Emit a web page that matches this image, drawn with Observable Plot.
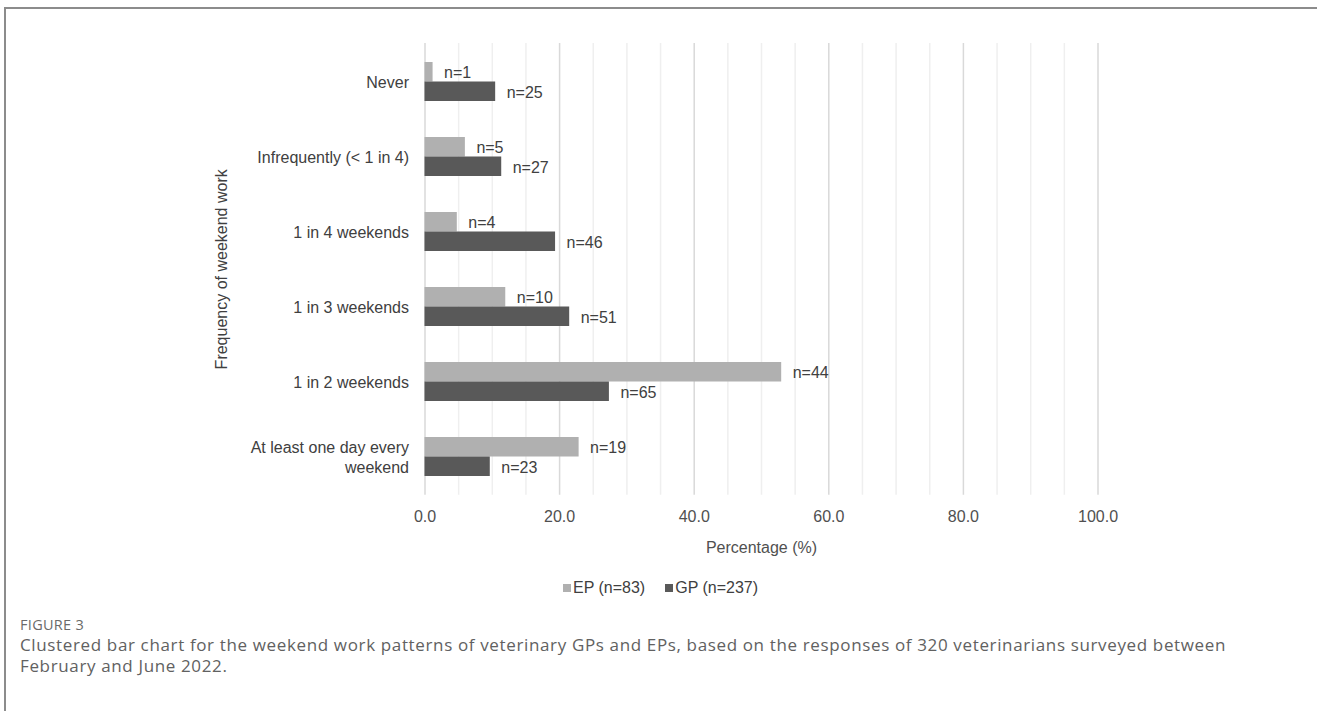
<!DOCTYPE html>
<html>
<head>
<meta charset="utf-8">
<script src="https://cdn.jsdelivr.net/npm/d3@7"></script>
<script src="https://cdn.jsdelivr.net/npm/@observablehq/plot@0.6"></script>
<style>
  html, body { margin: 0; padding: 0; background: #fff; }
  body { width: 1317px; height: 711px; position: relative; overflow: hidden; }
  .frame { position: absolute; left: 4px; top: 7px; right: 0; bottom: 0;
           border-top: 2px solid #8c8c8c; border-left: 2px solid #8c8c8c; }
  #chart { position: absolute; left: 0; top: 0; }
  .legend { position: absolute; left: 563px; top: 579px; display: flex; align-items: center;
            font: 16px "Liberation Sans", Arial, sans-serif; color: #404040; white-space: nowrap; }
  .legend span.item { display: inline-flex; align-items: center; margin-right: 20px; }
  .legend span.sw { display: inline-block; width: 8px; height: 8px; margin-right: 2px; }
  .fig { position: absolute; left: 20px; top: 615px; font: 14.5px "Open Sans", sans-serif;
         color: #6a6a6a; letter-spacing: 0.3px; }
  .cap { position: absolute; left: 20px; top: 634px; font: 17px "Open Sans", sans-serif;
         color: #616161; line-height: 21px; white-space: nowrap; letter-spacing: 0.64px; }
</style>
</head>
<body>
<div class="frame"></div>
<div id="chart"></div>
<div class="legend" id="legend"></div>
<div class="fig">FIGURE 3</div>
<div class="cap">Clustered bar chart for the weekend work patterns of veterinary GPs and EPs, based on the responses of 320 veterinarians surveyed between<br>February and June 2022.</div>
<script>
// Weekend work frequency categories (top to bottom)
const categories = [
  "Never",
  "Infrequently (< 1 in 4)",
  "1 in 4 weekends",
  "1 in 3 weekends",
  "1 in 2 weekends",
  "At least one day every weekend"
];

// Series names and colours
const seriesNames = ["EP (n=83)", "GP (n=237)"];
const seriesColors = ["#b0b0b0", "#595959"];

// Percentage of respondents in each category
const epPercent = [1.2, 6.0, 4.8, 12.0, 53.0, 22.9];
const gpPercent = [10.5, 11.4, 19.4, 21.5, 27.4, 9.7];

// Respondent counts shown next to each bar
const epCount = [1, 5, 4, 10, 44, 19];
const gpCount = [25, 27, 46, 51, 65, 23];

// Axis ticks and grid positions
const xTicks = [0, 20, 40, 60, 80, 100];
const gridMinor = [5, 10, 15, 25, 30, 35, 45, 50, 55, 65, 70, 75, 85, 90, 95];

const ep = categories.map((c, i) => ({category: c, value: epPercent[i], n: epCount[i]}));
const gp = categories.map((c, i) => ({category: c, value: gpPercent[i], n: gpCount[i]}));

const half = 19.5; // each bar takes half of the band

const chart = Plot.plot({
  width: 1317,
  height: 560,
  marginLeft: 424.5,
  marginRight: 219.5,
  marginTop: 43,
  marginBottom: 65.3,
  style: {fontFamily: "'Liberation Sans', Arial, sans-serif", fontSize: "16px", color: "#404040", background: "transparent"},
  x: {domain: [0, 100]},
  y: {domain: categories, paddingInner: 0.482, paddingOuter: 0.241},
  marks: [
    Plot.ruleX(gridMinor, {stroke: "#efefef", strokeWidth: 1.5}),
    Plot.ruleX(xTicks, {stroke: "#d9d9d9", strokeWidth: 1.5}),
    Plot.axisX({
      ticks: xTicks,
      tickFormat: d3.format(".1f"),
      tickSize: 0,
      tickPadding: 15,
      fill: "#505050",
      label: "Percentage (%)",
      labelArrow: "none",
      labelAnchor: "center",
      labelOffset: 58
    }),
    Plot.axisY({
      tickSize: 0,
      tickPadding: 16,
      lineHeight: 1.25,
      fill: "#404040",
      tickFormat: d => d === "At least one day every weekend" ? "At least one day every\nweekend" : d,
      label: "Frequency of weekend work",
      labelAnchor: "center",
      labelOffset: 209
    }),
    Plot.barX(ep, {x: "value", y: "category", fill: seriesColors[0], insetBottom: half}),
    Plot.barX(gp, {x: "value", y: "category", fill: seriesColors[1], insetTop: half}),
    Plot.text(ep, {x: "value", y: "category", text: d => `n=${d.n}`, dy: -half / 2 + 1, dx: 11, textAnchor: "start", fill: "#404040"}),
    Plot.text(gp, {x: "value", y: "category", text: d => `n=${d.n}`, dy: half / 2 + 1, dx: 11, textAnchor: "start", fill: "#404040"})
  ]
});
document.getElementById("chart").appendChild(chart);

// Legend swatches
const legend = document.getElementById("legend");
seriesNames.forEach((name, i) => {
  const item = document.createElement("span");
  item.className = "item";
  const sw = document.createElement("span");
  sw.className = "sw";
  sw.style.background = seriesColors[i];
  item.appendChild(sw);
  item.appendChild(document.createTextNode(name));
  legend.appendChild(item);
});
</script>
</body>
</html>
